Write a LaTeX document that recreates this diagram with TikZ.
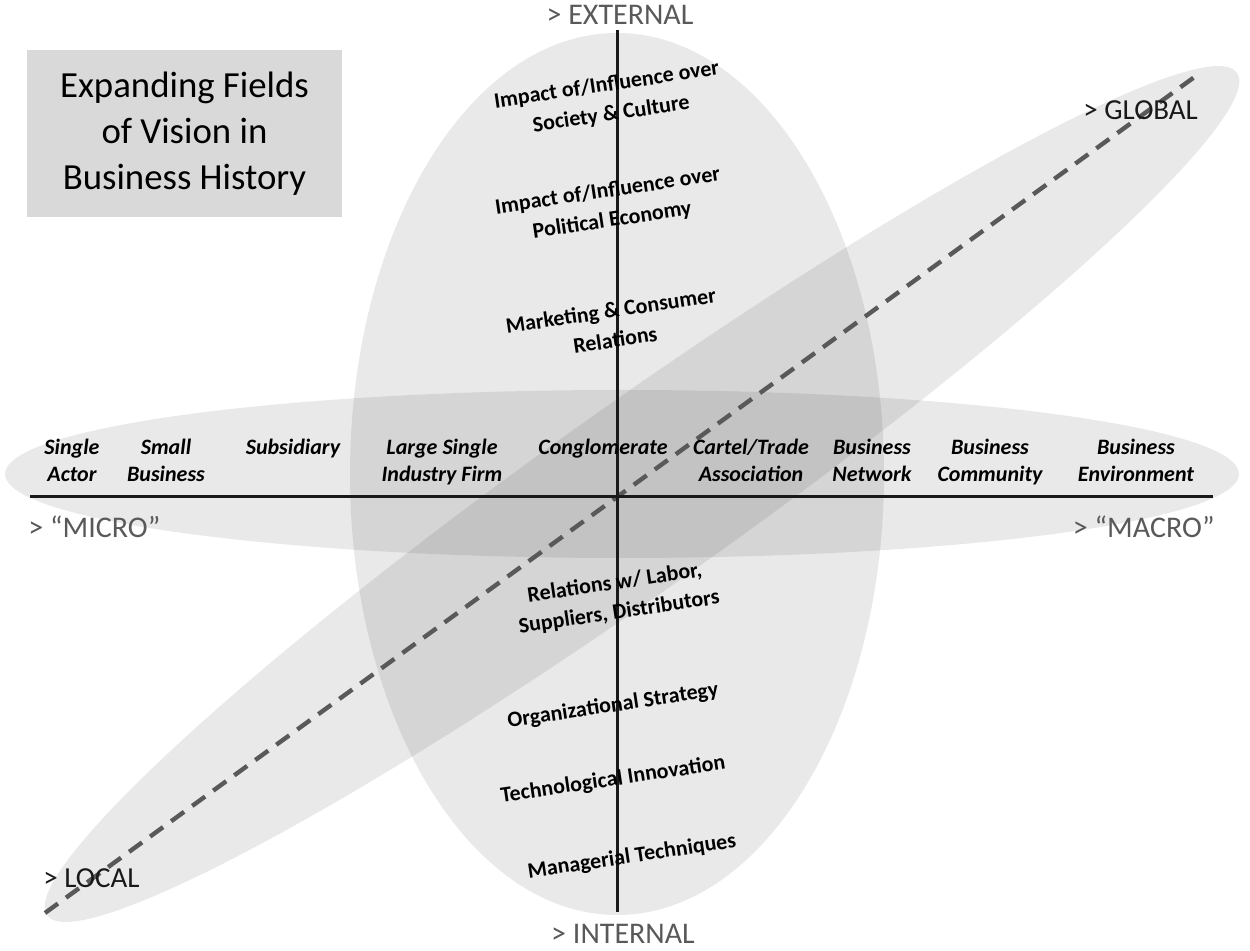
\documentclass[tikz,border=0pt]{standalone}
\usepackage{fontspec}
\setmainfont{Carlito}
\definecolor{axisgray}{HTML}{595959}
\definecolor{boxgray}{HTML}{D9D9D9}
\begin{document}
\begin{tikzpicture}[x=0.5pt,y=-0.5pt,
  ellfill/.style={fill=black,fill opacity=0.085},
  hlabel/.style={font=\fontsize{11}{13.5}\selectfont\bfseries\itshape,align=center,anchor=north,inner sep=0pt},
  vlabel/.style={font=\fontsize{11}{14.8}\selectfont\bfseries,align=center,rotate=8.5,inner sep=0pt},
  axlabel/.style={font=\fontsize{15}{18}\selectfont,text=axisgray,inner sep=0pt},
  endlabel/.style={font=\fontsize{14.5}{18}\selectfont,text=black!90,inner sep=0pt},
  axisline/.style={line width=1.5pt,draw=black!90},
  dashline/.style={line width=2.2pt,draw=axisgray,dash pattern=on 8pt off 5pt}]
\useasboundingbox (0,0) rectangle (1250,951);
% ellipses
\fill[ellfill] (617,474) ellipse [x radius=267, y radius=441];
\fill[ellfill] (622,474) ellipse [x radius=617, y radius=84];
\fill[ellfill,rotate around={35.3:(642,494)}] (642,494) ellipse [x radius=729, y radius=92];
% title box
\node[fill=boxgray,minimum width=157.5pt,minimum height=83.5pt,inner sep=0pt,
  font=\fontsize{18.4}{23}\selectfont,align=center] (title) at (184.5,133.5)
  {Expanding Fields\\of Vision in\\Business History};
% dashed diagonal
\coordinate (loc) at (45,913);
\coordinate (glo) at (1200,73);
\draw[dashline] (loc) -- (glo);
% axes
\coordinate (xl) at (30,497);
\coordinate (xr) at (1213,497);
\coordinate (yt) at (617,30);
\coordinate (yb) at (617,912);
\draw[axisline] (xl) -- (xr);
\draw[axisline] (yt) -- (yb);
% axis end labels
\node[axlabel] (ext) at (620,15) {> EXTERNAL};
\node[axlabel] (int) at (623,934) {> INTERNAL};
\node[axlabel,anchor=west] (mic) at (28,527) {> “MICRO”};
\node[axlabel,anchor=east] (mac) at (1215,527) {> “MACRO”};
\node[endlabel,anchor=west] (glob) at (1083,110) {> GLOBAL};
\node[endlabel,anchor=west] (loca) at (43,878) {> LOCAL};
% horizontal labels
\node[hlabel] (h1) at (72,439) {Single\\Actor};
\node[hlabel] (h2) at (166,439) {Small\\Business};
\node[hlabel] (h3) at (293,439) {Subsidiary};
\node[hlabel] (h4) at (442,439) {Large Single\\Industry Firm};
\node[hlabel] (h5) at (603,439) {Conglomerate};
\node[hlabel] (h6) at (751,439) {Cartel/Trade\\Association};
\node[hlabel] (h7) at (872,439) {Business\\Network};
\node[hlabel] (h8) at (990,439) {Business\\Community};
\node[hlabel] (h9) at (1136,439) {Business\\Environment};
% vertical labels
\node[vlabel] (v1) at (609,100) {Impact of/Influence over\\Society \& Culture};
\node[vlabel] (v2) at (610,206) {Impact of/Influence over\\Political Economy};
\node[vlabel] (v3) at (613,325) {Marketing \& Consumer\\Relations};
\node[vlabel] (v4) at (617,598) {Relations w/ Labor,\\Suppliers, Distributors};
\node[vlabel] (v5) at (613,706) {Organizational Strategy};
\node[vlabel] (v6) at (613,780) {Technological Innovation};
\node[vlabel] (v7) at (632,857) {Managerial Techniques};
\end{tikzpicture}
\end{document}
